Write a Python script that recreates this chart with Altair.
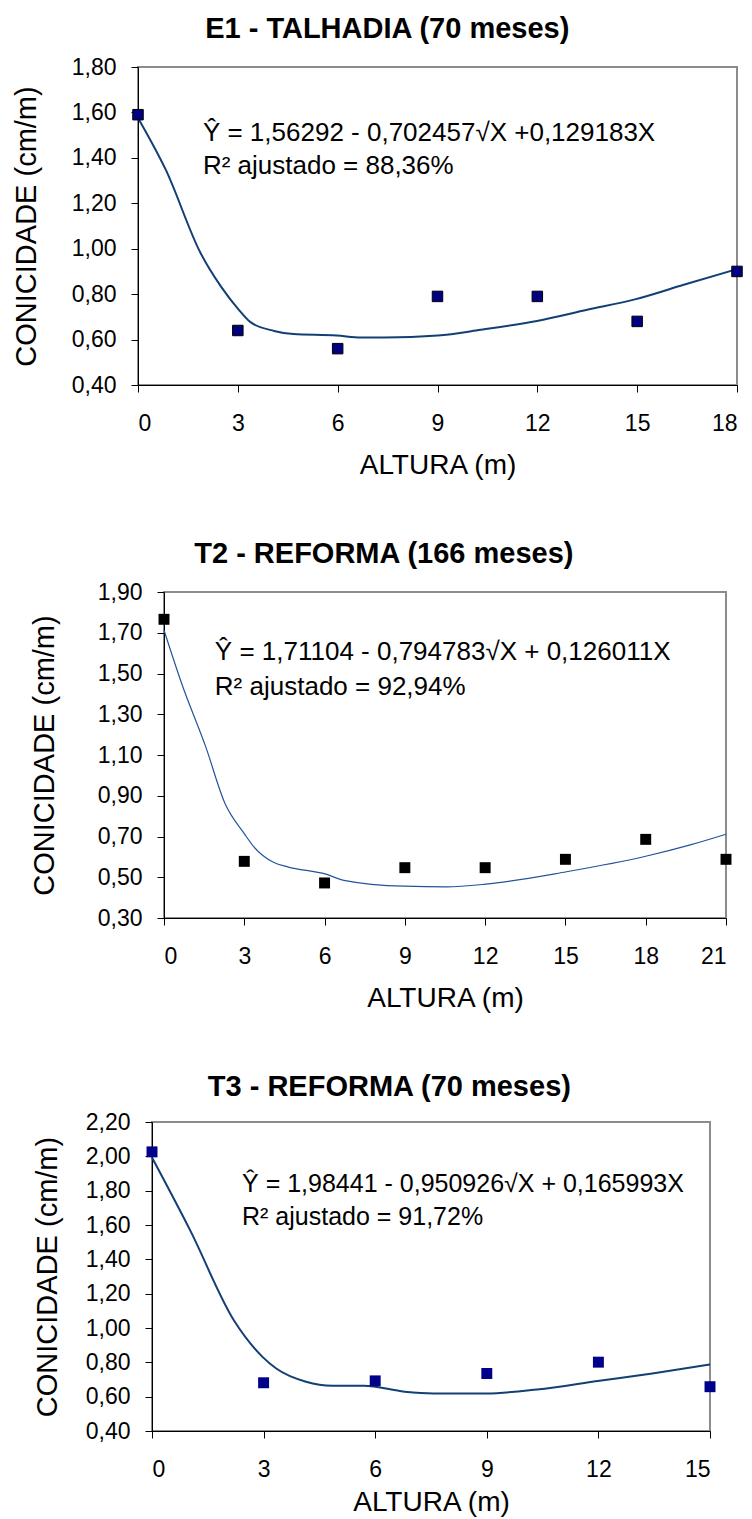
import altair as alt
import pandas as pd

FONT = "Liberation Sans"

# ---------------- E1 - TALHADIA (70 meses) ----------------
e1_altura = [0, 3, 6, 9, 12, 15, 18]
e1_conic = [1.59, 0.64, 0.56, 0.79, 0.79, 0.68, 0.90]
e1_fit_altura = [0, 0.83, 1.88, 2.49, 3.03, 3.36, 4.09, 4.67, 5.97, 6.70, 7.42,
                 9.01, 10.3, 11.99, 13.5, 14.96, 16.4, 18]
e1_fit_conic = [1.576, 1.349, 0.981, 0.834, 0.731, 0.679, 0.638, 0.624, 0.618,
                0.609, 0.609, 0.618, 0.643, 0.682, 0.731, 0.778, 0.841, 0.910]
e1_eq = ["Ŷ = 1,56292 - 0,702457√X +0,129183X", "R² ajustado = 88,36%"]
e1_xticks = [0, 3, 6, 9, 12, 15, 18]
e1_yticks = [0.40, 0.60, 0.80, 1.00, 1.20, 1.40, 1.60, 1.80]

# ---------------- T2 - REFORMA (166 meses) ----------------
t2_altura = [0, 3, 6, 9, 12, 15, 18, 21]
t2_conic = [1.766, 0.578, 0.472, 0.547, 0.547, 0.588, 0.686, 0.588]
t2_fit_altura = [0, 0.66, 1.56, 2.28, 3.0, 3.36, 4.11, 4.62, 6.05, 6.72, 8.98,
                 10.54, 12.02, 15.04, 18.0, 19.7, 21]
t2_fit_conic = [1.713, 1.451, 1.140, 0.862, 0.714, 0.649, 0.572, 0.551, 0.515,
                0.485, 0.456, 0.453, 0.466, 0.527, 0.603, 0.660, 0.711]
t2_eq = ["Ŷ = 1,71104 - 0,794783√X + 0,126011X", "R² ajustado = 92,94%"]
t2_xticks = [0, 3, 6, 9, 12, 15, 18, 21]
t2_yticks = [0.30, 0.50, 0.70, 0.90, 1.10, 1.30, 1.50, 1.70, 1.90]

# ---------------- T3 - REFORMA (70 meses) ----------------
t3_altura = [0, 3, 6, 9, 12, 15]
t3_conic = [2.026, 0.681, 0.692, 0.735, 0.801, 0.658]
t3_fit_altura = [0, 1.03, 2.2, 2.97, 3.34, 4.14, 4.85, 5.69, 6.79, 7.56, 8.99,
                 10.35, 12.03, 13.45, 15]
t3_fit_conic = [1.993, 1.567, 1.045, 0.832, 0.764, 0.687, 0.664, 0.664, 0.629,
                0.619, 0.619, 0.642, 0.693, 0.735, 0.787]
t3_eq = ["Ŷ = 1,98441 - 0,950926√X + 0,165993X", "R² ajustado = 91,72%"]
t3_xticks = [0, 3, 6, 9, 12, 15]
t3_yticks = [0.40, 0.60, 0.80, 1.00, 1.20, 1.40, 1.60, 1.80, 2.00, 2.20]

COMMA_LABEL = "replace(format(datum.value, '.2f'), '.', ',')"
FRAME = alt.ViewBackground(stroke="#8c8c8c", strokeWidth=2)


def panel(title, alt_x, conic, fit_x, fit_y, eq_lines, xticks, yticks,
          width, height, eq_x, eq_y, eq_size, marker_fill, marker_stroke,
          marker_size, line_color, line_width, y_title_pad, x_title_pad,
          title_dx, title_offset):
    obs = pd.DataFrame({"altura": alt_x, "conicidade": conic})
    fit = pd.DataFrame({"altura": fit_x, "conicidade": fit_y})
    eq = pd.DataFrame({"altura": [eq_x, eq_x], "conicidade": eq_y, "txt": eq_lines})

    xs = alt.Scale(domain=[xticks[0], xticks[-1]], nice=False, zero=False)
    ys = alt.Scale(domain=[yticks[0], yticks[-1]], nice=False, zero=False)

    x_axis = alt.Axis(values=xticks, tickCount=len(xticks), format="d",
                      title="ALTURA (m)", labelPadding=20,
                      titlePadding=x_title_pad, labelOverlap=False)
    y_axis = alt.Axis(values=yticks, tickCount=len(yticks),
                      labelExpr=COMMA_LABEL, title="CONICIDADE (cm/m)",
                      labelPadding=15, titlePadding=y_title_pad,
                      labelOverlap=False)

    line = alt.Chart(fit).mark_line(
        color=line_color, strokeWidth=line_width, interpolate="monotone"
    ).encode(
        x=alt.X("altura:Q", scale=xs, axis=x_axis),
        y=alt.Y("conicidade:Q", scale=ys, axis=y_axis),
    )
    mark_kw = dict(filled=True, fill=marker_fill, size=marker_size, opacity=1)
    if marker_stroke:
        mark_kw.update(stroke=marker_stroke, strokeWidth=1)
    pts = alt.Chart(obs).mark_square(**mark_kw).encode(
        x=alt.X("altura:Q", scale=xs),
        y=alt.Y("conicidade:Q", scale=ys),
    )
    txt = alt.Chart(eq).mark_text(
        align="left", baseline="middle", font=FONT, fontSize=eq_size,
        color="black"
    ).encode(
        x=alt.X("altura:Q", scale=xs),
        y=alt.Y("conicidade:Q", scale=ys),
        text="txt:N",
    )
    return alt.layer(line, pts, txt).properties(
        width=width, height=height, view=FRAME,
        title=alt.TitleParams(title, font=FONT, fontSize=29, fontWeight="bold",
                              color="black", anchor="middle", frame="bounds",
                              offset=title_offset, dx=title_dx),
    )


def row(indent, chart):
    # invisible block that pushes the panel to its horizontal position
    pad = alt.Chart(pd.DataFrame({"v": [0]})).mark_point(opacity=0).encode(
        x=alt.X("v:Q", axis=None), y=alt.Y("v:Q", axis=None)
    ).properties(width=indent, height=10,
                 view=alt.ViewBackground(stroke="transparent"))
    return alt.hconcat(pad, chart, spacing=0)


p1 = panel("E1 - TALHADIA (70 meses)", e1_altura, e1_conic, e1_fit_altura,
           e1_fit_conic, e1_eq, e1_xticks, e1_yticks, 599, 318,
           1.95, [1.51, 1.363], 26, "#000080", "black", 110, "#123f74", 2,
           30, 16, 9, 12)
p2 = panel("T2 - REFORMA (166 meses)", t2_altura, t2_conic, t2_fit_altura,
           t2_fit_conic, t2_eq, t2_xticks, t2_yticks, 562, 326,
           1.9, [1.607, 1.435], 26, "black", None, 120, "#24539c", 1.2,
           38, 16, 3, 12)
p3 = panel("T3 - REFORMA (70 meses)", t3_altura, t3_conic, t3_fit_altura,
           t3_fit_conic, t3_eq, t3_xticks, t3_yticks, 558, 309,
           2.42, [1.838, 1.645], 25, "#00008b", None, 120, "#123f74", 2,
           23, 7, 15, 9)

chart = alt.vconcat(
    row(5, p1), row(23, p2), row(26, p3),
    spacing=59, center=False,
).configure_view(
    stroke="transparent"
).configure_axis(
    grid=False,
    domainColor="black", domainWidth=1,
    tickColor="black", tickSize=7, tickWidth=1,
    labelFont=FONT, labelFontSize=23, labelColor="black",
    titleFont=FONT, titleFontSize=28, titleFontWeight="normal", titleColor="black",
).configure_axisY(
    titleFontSize=29,
).properties(
    background="white",
    padding={"left": 4, "top": 14, "right": 4, "bottom": 4},
)

chart.save("out.html", embed_options={"renderer": "svg", "actions": False})
